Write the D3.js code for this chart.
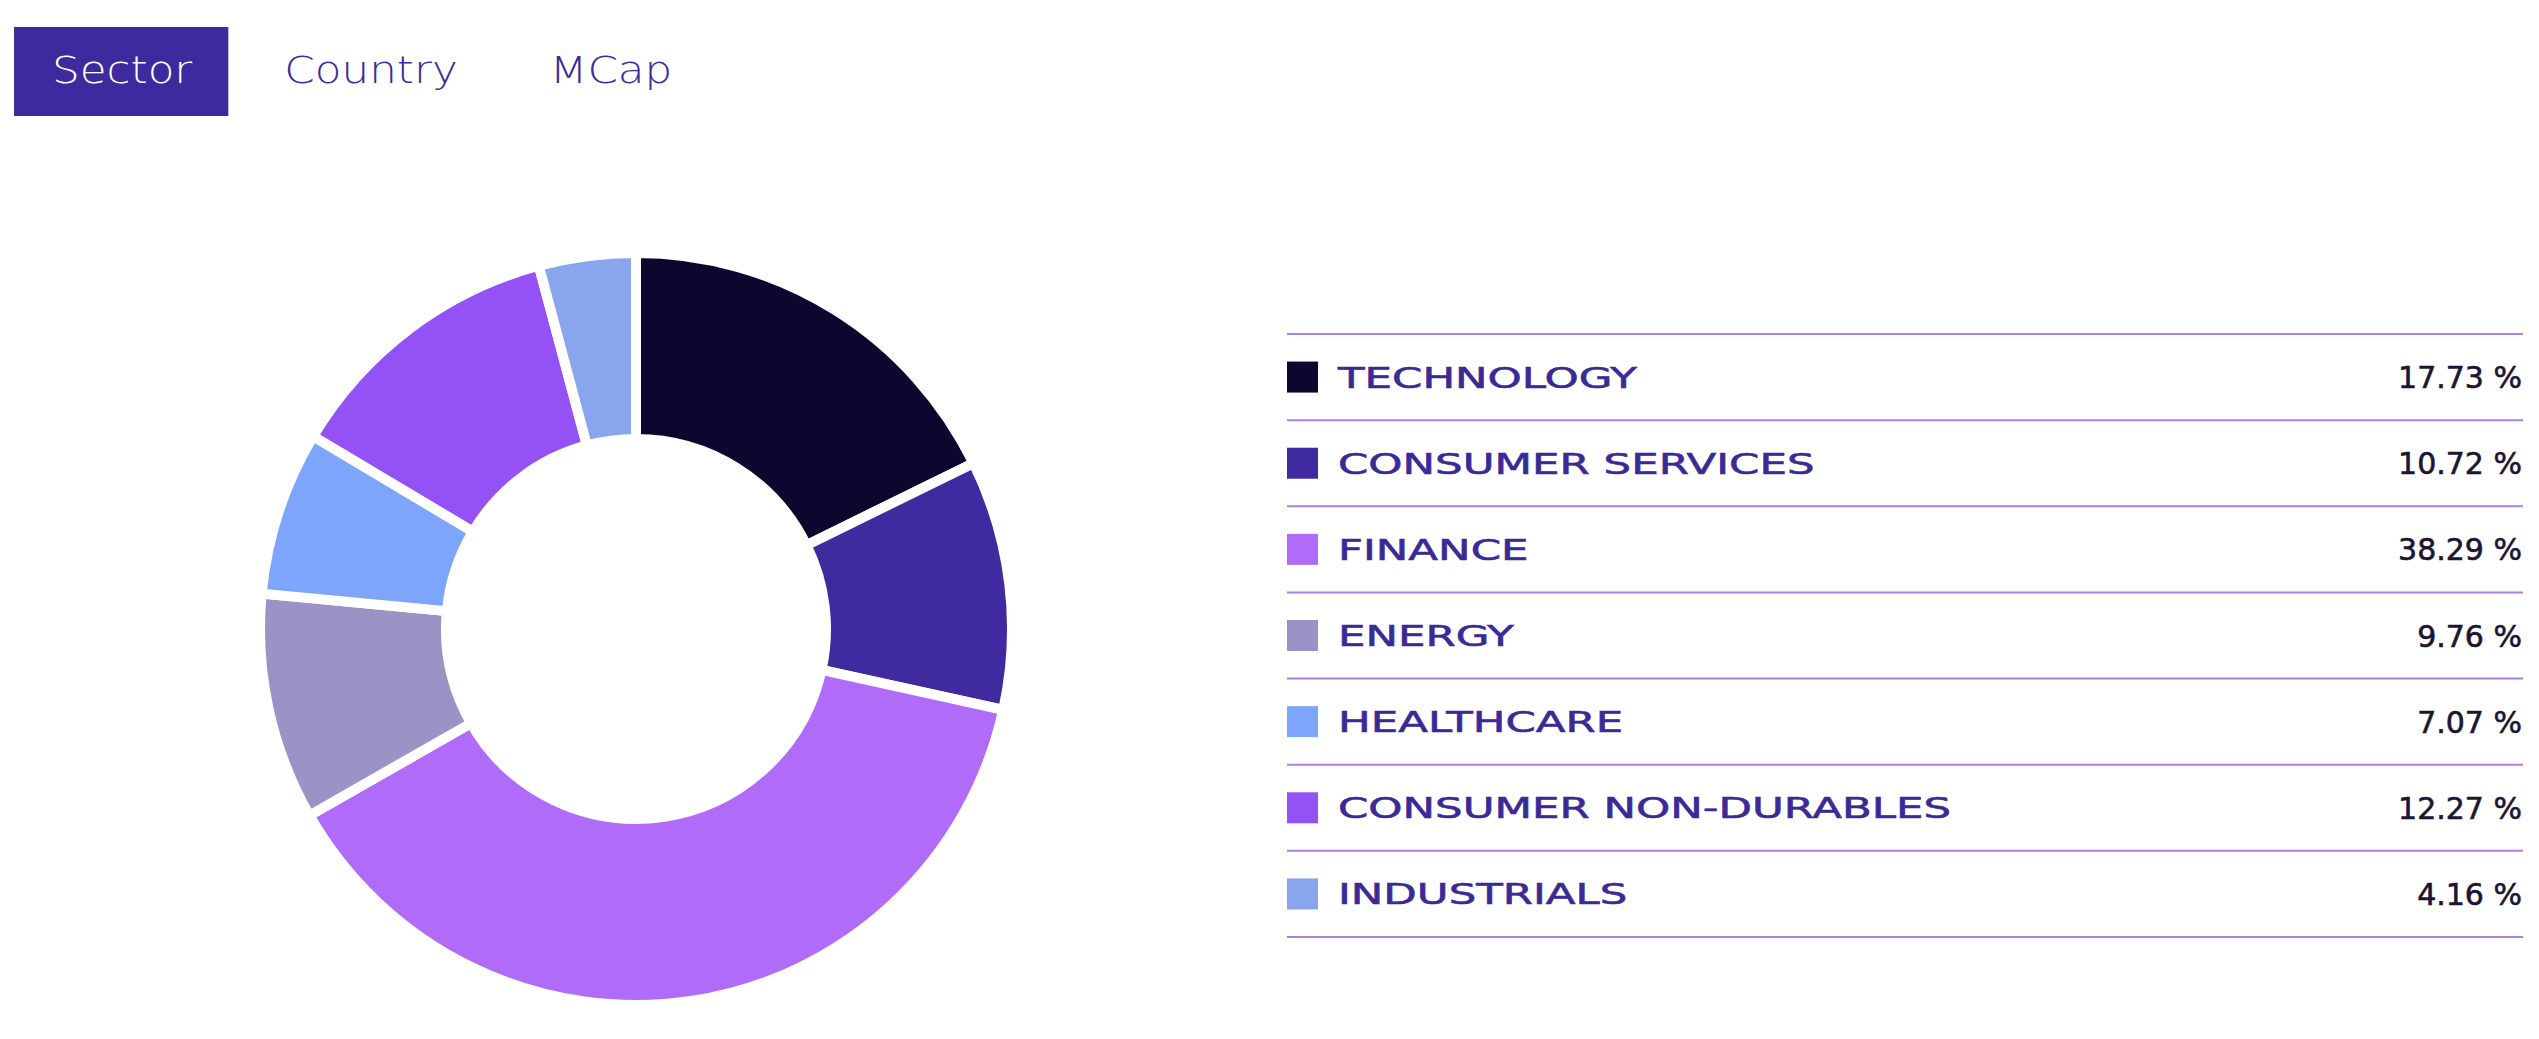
<!DOCTYPE html>
<html><head><meta charset="utf-8">
<script src="https://cdn.jsdelivr.net/npm/d3@7"></script>
<style>body{margin:0;background:#fff;} svg{display:block}</style>
</head><body><svg id="c" width="2539" height="1039"></svg>
<script>
// ---- data ----
const categories = ["TECHNOLOGY","CONSUMER SERVICES","FINANCE","ENERGY","HEALTHCARE","CONSUMER NON-DURABLES","INDUSTRIALS"];
const values = [17.73, 10.72, 38.29, 9.76, 7.07, 12.27, 4.16];
const colors = ["#0e062e","#3f2a9f","#b06bf9","#9b92c6","#7ea5fc","#9452f6","#89a5ee"];
const tabs = ["Sector","Country","MCap"];
const activeTab = "Sector";

// ---- layout ----
const svg = d3.select("#c");
const FONT = "'DejaVu Sans', sans-serif";
const indigo = "#3d2a9e";

// tabs
const tabG = svg.append("g");
let tx = 52;
const tabScale = 1.18;
tabs.forEach((t) => {
  const g = tabG.append("g");
  const isActive = t === activeTab;
  const txt = g.append("g").attr("transform", `translate(${tx},83) scale(${tabScale},1)`)
    .append("text").text(t)
    .attr("font-family", FONT).attr("font-size", 37).attr("font-weight", 300)
    .attr("fill", isActive ? "#ffffff" : indigo);
  const w = txt.node().getComputedTextLength() * tabScale;
  if (isActive) {
    g.insert("rect", ":first-child")
      .attr("x", tx - 38).attr("y", 27).attr("width", w + 74).attr("height", 89)
      .attr("fill", indigo);
  }
  tx += w + 92;
});

// donut
const cx = 636, cy = 629, R = 376, r0 = 190;
const pie = d3.pie().sort(null).value(d => d.v);
const arc = d3.arc().innerRadius(r0).outerRadius(R);
const data = categories.map((c, i) => ({c, v: values[i], col: colors[i]}));
svg.append("g").attr("transform", `translate(${cx},${cy})`)
  .selectAll("path").data(pie(data)).join("path")
  .attr("d", arc)
  .attr("fill", d => d.data.col)
  .attr("stroke", "#fff").attr("stroke-width", 10).attr("stroke-linejoin", "miter");

// legend table
const x0 = 1287, x1 = 2523;
const y = d3.scaleBand().domain(categories).range([334, 937]);
const lg = svg.append("g");
const bounds = categories.map(c => y(c)).concat([y.range()[1]]);
lg.selectAll("line").data(bounds).join("line")
  .attr("x1", x0).attr("x2", x1).attr("y1", d => d).attr("y2", d => d)
  .attr("stroke", "#ad80dd").attr("stroke-width", 2);

const row = lg.selectAll("g.row").data(data).join("g").attr("class", "row")
  .attr("transform", d => `translate(0,${y(d.c) + y.bandwidth() / 2})`);
const sw = 31;
row.append("rect").attr("x", x0).attr("y", -sw / 2).attr("width", sw).attr("height", sw)
  .attr("fill", d => d.col);
const labScale = 1.5;
row.append("g").attr("transform", `translate(1338,10.5) scale(${labScale},1)`)
  .append("text").text(d => d.c)
  .attr("font-family", FONT).attr("font-size", 29)
  .attr("fill", "#3b2a96").attr("stroke", "#3b2a96").attr("stroke-width", 0.6);
const fmt = d3.format(".2f");
row.append("text").text(d => fmt(d.v) + " %")
  .attr("x", x1 - 1).attr("y", 11)
  .attr("text-anchor", "end")
  .attr("font-family", FONT).attr("font-size", 30)
  .attr("fill", "#1a1535").attr("stroke", "#1a1535").attr("stroke-width", 0.6);
</script>
</body></html>
